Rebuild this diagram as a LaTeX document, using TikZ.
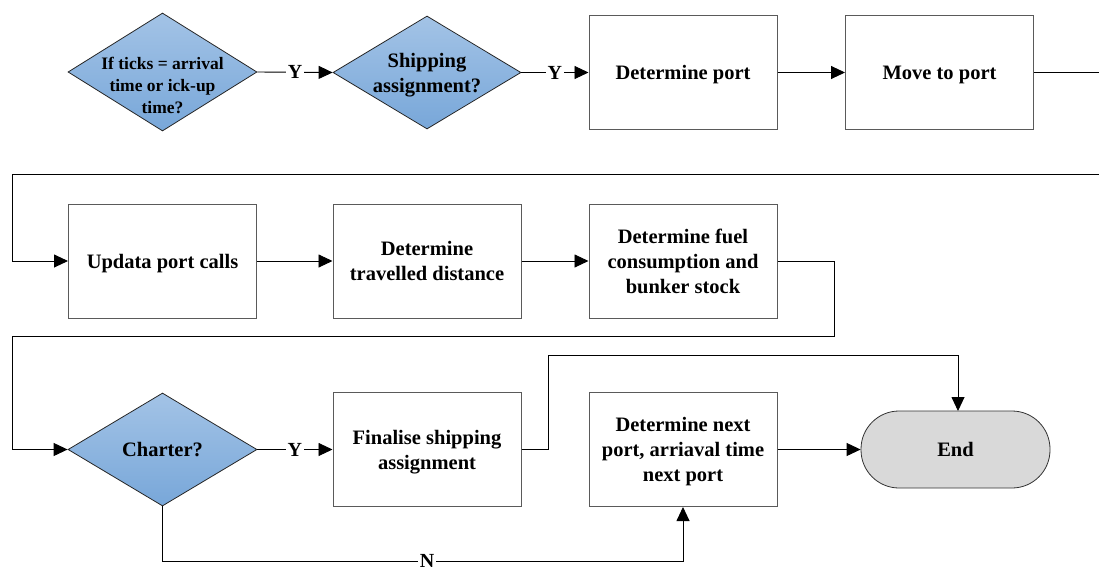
\documentclass[tikz,border=0pt]{standalone}
\usepackage{fontspec}
\setmainfont{Liberation Serif}
\usetikzlibrary{shapes.geometric,arrows.meta}
\definecolor{decTop}{HTML}{A3C3E6}
\definecolor{decBot}{HTML}{78A7D9}
\definecolor{endFill}{HTML}{D9D9D9}
\definecolor{boxLine}{HTML}{5A5A5A}
\tikzset{
  base/.style={font=\fontsize{20.5}{25}\selectfont\bfseries, align=center,
    text depth=0pt},
  proc/.style={base, draw=boxLine, line width=1pt, fill=white,
    minimum width=188pt, minimum height=114pt, inner sep=0pt},
  decision/.style={diamond, draw=black!85, line width=0.8pt,
    top color=decTop, bottom color=decBot, inner sep=0pt},
  terminal/.style={base, draw=black!80, line width=0.8pt, fill=endFill,
    rounded corners=38pt, minimum width=189pt, minimum height=77pt},
  dectext/.style={base},
  flow/.style={draw=black, line width=0.9pt},
  arr/.style={flow, -{Triangle[length=14pt,width=13pt]}},
  lbl/.style={font=\fontsize{20}{25}\selectfont\bfseries, fill=white,
    inner sep=2pt}
}
\begin{document}
\begin{tikzpicture}[x=1pt, y=-1pt]
\useasboundingbox (0,0) rectangle (1099,570);

% decisions
\node[decision, minimum width=189pt, minimum height=118pt] (ticks) at (162.5,72) {};
\node[dectext, font=\fontsize{17.5}{22}\selectfont\bfseries] (ticksT) at (162.5,85) {If ticks = arrival\\time or ick-up\\time?};
\node[decision, minimum width=188pt, minimum height=113pt] (ship) at (427,72.5) {};
\node[dectext] (shipT) at (ship) {Shipping\\assignment?};
\node[decision, minimum width=189pt, minimum height=113pt] (charter) at (162.5,449.5) {};
\node[dectext] (charterT) at (charter) {Charter?};

% process boxes
\node[proc] (port) at (683,72.5) {Determine port};
\node[proc] (move) at (939.5,72.5) {Move to port};
\node[proc] (upd)  at (162.5,261) {Updata port calls};
\node[proc] (dist) at (427,261) {Determine\\travelled distance};
\node[proc] (fuel) at (683,261) {Determine fuel\\consumption and\\bunker stock};
\node[proc] (fin)  at (427,449.5) {Finalise shipping\\assignment};
\node[proc] (next) at (683,449.5) {Determine next\\port, arriaval time\\next port};
\node[terminal] (end) at (955.5,449.5) {End};

% loose ends at the right margin
\coordinate (outR) at (1099,72.5);
\coordinate (inR)  at (1099,174);

% connectors
\draw[arr] (ticks.east) -- node[lbl] {Y} (ship.west);
\draw[arr] (ship.east) -- node[lbl] {Y} (port.west);
\draw[arr] (port.east) -- (move.west);
\draw[flow] (move.east) -- (outR);
\draw[arr] (inR) -- (12,174) -- (12,261) -- (upd.west);
\draw[arr] (upd.east) -- (dist.west);
\draw[arr] (dist.east) -- (fuel.west);
\draw[arr] (fuel.east) -- (834,261) -- (834,336) -- (12,336) -- (12,449.5) -- (charter.west);
\draw[arr] (charter.east) -- node[lbl] {Y} (fin.west);
\draw[arr] (fin.east) -- (548,449.5) -- (548,355) -- (958,355) -- (958,411);
\draw[arr] (next.east) -- (end.west);
\draw[arr] (charter.south) -- (162.5,561) -- (683,561) -- (next.south);
\node[lbl, inner ysep=1pt] (nlab) at (427,561) {N};
\end{tikzpicture}
\end{document}
